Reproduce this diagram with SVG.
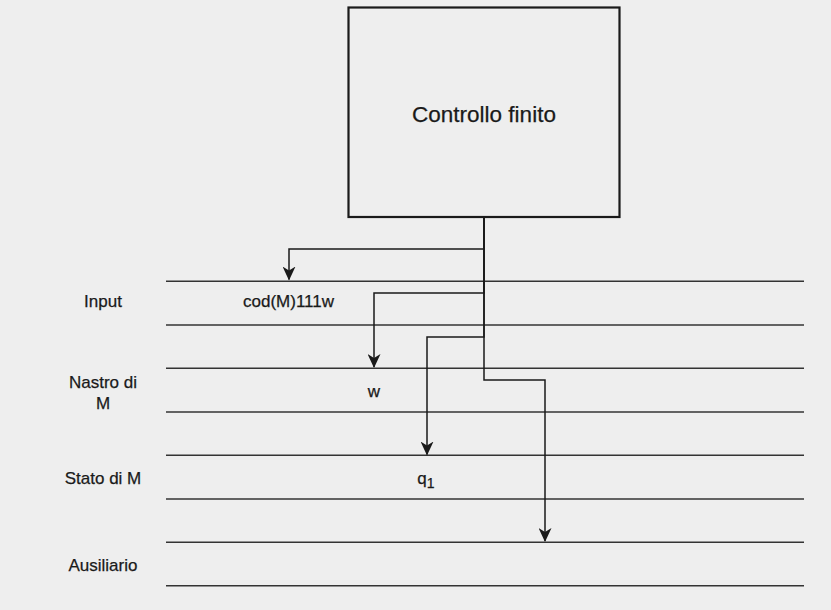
<svg xmlns="http://www.w3.org/2000/svg" width="831" height="610" viewBox="0 0 831 610">
<style>
.lbl{font-family:"Liberation Sans",Arial,Helvetica,sans-serif;font-size:17px;fill:#1a1a1a;stroke:#1a1a1a;stroke-width:0.25;text-anchor:middle}
.tape{stroke:#333;stroke-width:1.4;fill:none}
.edge{stroke:#1a1a1a;stroke-width:1.5;fill:none;marker-end:url(#arr)}
</style>
<defs>
<marker id="arr" markerUnits="userSpaceOnUse" viewBox="0 0 14 13" refX="13" refY="6.5" markerWidth="14" markerHeight="13" orient="auto">
<path d="M0,0 L14,6.5 L0,13 L4,6.5 Z" fill="#1a1a1a"/>
</marker>
</defs>
<rect width="831" height="610" fill="#eeeeee"/>
<g id="controllo">
<rect x="348.5" y="7.5" width="271" height="209.5" fill="#eeeeee" stroke="#1a1a1a" stroke-width="2.2"/>
<text x="484" y="122" class="lbl" style="font-size:22.5px">Controllo finito</text>
</g>
<g id="tapes">
<line class="tape" x1="166" y1="281.3" x2="804" y2="281.3"/>
<line class="tape" x1="166" y1="325" x2="804" y2="325"/>
<line class="tape" x1="166" y1="368.3" x2="804" y2="368.3"/>
<line class="tape" x1="166" y1="412" x2="804" y2="412"/>
<line class="tape" x1="166" y1="455.3" x2="804" y2="455.3"/>
<line class="tape" x1="166" y1="499" x2="804" y2="499"/>
<line class="tape" x1="166" y1="542.3" x2="804" y2="542.3"/>
<line class="tape" x1="166" y1="585.7" x2="804" y2="585.7"/>
</g>
<g id="input">
<text x="103" y="306.5" class="lbl">Input</text>
<text x="288.5" y="306.5" class="lbl">cod(M)111w</text>
</g>
<g id="nastro">
<text x="103" y="387.5" class="lbl">Nastro di</text>
<text x="103" y="409" class="lbl">M</text>
<text x="374" y="396.5" class="lbl">w</text>
</g>
<g id="stato">
<text x="426" y="484" class="lbl">q<tspan dy="3.5" style="font-size:14px">1</tspan></text>
<text x="103" y="484" class="lbl">Stato di M</text>
</g>
<g id="ausiliario">
<text x="103" y="570.5" class="lbl">Ausiliario</text>
</g>
<g id="connectors">
<path class="edge" d="M484,218 V249 H289 V279.5"/>
<path class="edge" d="M484,218 V293 H374 V367"/>
<path class="edge" d="M484,218 V337 H427 V454.5"/>
<path class="edge" d="M484,218 V380 H545 V541"/>
</g>
</svg>
